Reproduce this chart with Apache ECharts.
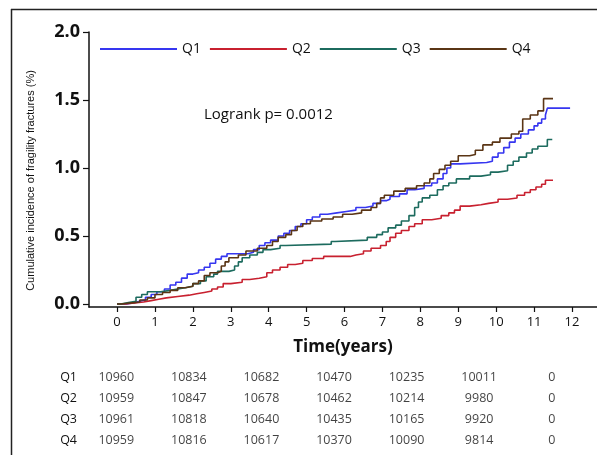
<!DOCTYPE html>
<html>
<head>
<meta charset="utf-8">
<script src="https://cdn.jsdelivr.net/npm/echarts@6/dist/echarts.min.js"></script>
<style>
  html, body { margin: 0; padding: 0; background: #fff; }
  #chart { width: 597px; height: 455px; }
</style>
</head>
<body>
<div id="chart"></div>
<script>
// 累积发生率 (t, %) —— 阶梯点
const groups = ['Q1', 'Q2', 'Q3', 'Q4']
const colors = ['#3636f0', '#c8202f', '#1c6b5e', '#5a3515']

const q1 = [[0,0],[0.25,0.01],[0.45,0.02],[0.6,0.03],[0.75,0.05],[0.9,0.07],[1.05,0.09],[1.25,0.11],[1.4,0.14],[1.55,0.16],[1.7,0.19],[1.85,0.22],[2.0,0.23],[2.15,0.25],[2.3,0.27],[2.45,0.3],[2.6,0.33],[2.75,0.35],[2.9,0.37],[3.45,0.38],[3.6,0.4],[3.75,0.43],[3.9,0.45],[4.05,0.47],[4.25,0.5],[4.4,0.52],[4.55,0.54],[4.7,0.57],[4.85,0.59],[5.0,0.62],[5.15,0.64],[5.35,0.66],[5.55,0.67],[5.8,0.68],[6.05,0.69],[6.3,0.71],[6.55,0.72],[6.75,0.74],[6.95,0.76],[7.1,0.77],[7.2,0.79],[7.45,0.81],[7.65,0.84],[7.85,0.85],[8.1,0.87],[8.3,0.89],[8.45,0.92],[8.6,0.96],[8.7,1.0],[8.8,1.03],[9.05,1.04],[9.75,1.05],[9.9,1.08],[10.05,1.11],[10.2,1.15],[10.35,1.19],[10.5,1.22],[10.65,1.25],[10.85,1.28],[11.0,1.31],[11.1,1.33],[11.2,1.36],[11.3,1.39],[11.35,1.44],[11.95,1.44]]
const q2 = [[0,0],[0.2,0.005],[0.4,0.015],[0.7,0.025],[0.9,0.035],[1.1,0.045],[1.3,0.055],[1.6,0.065],[1.9,0.075],[2.1,0.085],[2.3,0.095],[2.5,0.11],[2.65,0.125],[2.8,0.15],[3.0,0.16],[3.3,0.18],[3.5,0.19],[3.75,0.2],[3.95,0.23],[4.1,0.25],[4.3,0.27],[4.5,0.29],[4.7,0.3],[4.9,0.32],[5.15,0.335],[5.45,0.35],[6.15,0.36],[6.3,0.37],[6.5,0.39],[6.7,0.41],[6.95,0.43],[7.1,0.46],[7.2,0.49],[7.35,0.52],[7.5,0.54],[7.7,0.57],[7.85,0.59],[8.05,0.62],[8.3,0.63],[8.55,0.65],[8.75,0.67],[8.9,0.69],[9.05,0.72],[9.3,0.73],[9.6,0.74],[9.8,0.75],[10.05,0.77],[10.3,0.78],[10.55,0.8],[10.75,0.82],[10.9,0.84],[11.05,0.86],[11.2,0.88],[11.3,0.91],[11.5,0.91]]
const q3 = [[0,0],[0.1,0.01],[0.3,0.02],[0.5,0.05],[0.65,0.07],[0.8,0.09],[1.15,0.1],[1.4,0.11],[1.6,0.12],[1.8,0.13],[2.0,0.15],[2.2,0.17],[2.35,0.2],[2.55,0.22],[2.65,0.24],[2.95,0.25],[3.1,0.28],[3.2,0.31],[3.3,0.34],[3.5,0.36],[3.7,0.38],[3.85,0.4],[4.05,0.41],[4.3,0.43],[4.45,0.44],[5.65,0.46],[5.75,0.47],[6.6,0.49],[6.85,0.51],[7.0,0.53],[7.15,0.56],[7.35,0.58],[7.5,0.61],[7.7,0.65],[7.85,0.71],[7.95,0.75],[8.05,0.78],[8.25,0.8],[8.45,0.84],[8.6,0.87],[8.75,0.89],[8.95,0.92],[9.3,0.94],[9.6,0.95],[9.85,0.97],[10.05,0.98],[10.3,1.02],[10.45,1.05],[10.6,1.08],[10.8,1.11],[10.95,1.14],[11.1,1.16],[11.35,1.21],[11.48,1.21]]
const q4 = [[0,0],[0.1,0.01],[0.45,0.015],[0.6,0.03],[0.8,0.045],[1.0,0.07],[1.2,0.085],[1.4,0.1],[1.6,0.12],[1.8,0.13],[2.0,0.15],[2.15,0.17],[2.3,0.21],[2.45,0.23],[2.65,0.24],[2.75,0.28],[2.85,0.31],[2.95,0.34],[3.2,0.36],[3.4,0.39],[3.7,0.41],[3.95,0.43],[4.1,0.46],[4.25,0.49],[4.45,0.51],[4.6,0.54],[4.75,0.57],[4.9,0.59],[5.1,0.61],[5.4,0.625],[5.7,0.64],[5.95,0.66],[6.2,0.67],[6.45,0.69],[6.7,0.71],[6.85,0.74],[6.95,0.78],[7.05,0.8],[7.3,0.83],[7.6,0.85],[7.9,0.87],[8.1,0.89],[8.25,0.92],[8.35,0.96],[8.5,0.99],[8.65,1.02],[8.8,1.05],[9.0,1.09],[9.3,1.1],[9.45,1.13],[9.65,1.17],[9.9,1.19],[10.1,1.22],[10.4,1.25],[10.6,1.27],[10.7,1.36],[10.9,1.39],[11.1,1.42],[11.25,1.51],[11.5,1.51]]
const curves = [q1, q2, q3, q4]

const xTicks = [0,1,2,3,4,5,6,7,8,9,10,11,12]
const yTicks = [0, 0.5, 1.0, 1.5, 2.0]

// 风险人数表
const riskTimes = ['0', '2', '4', '6', '8', '10', '12']
const riskQ1 = [10960, 10834, 10682, 10470, 10235, 10011, 0]
const riskQ2 = [10959, 10847, 10678, 10462, 10214, 9980, 0]
const riskQ3 = [10961, 10818, 10640, 10435, 10165, 9920, 0]
const riskQ4 = [10959, 10816, 10617, 10370, 10090, 9814, 0]
const riskRows = [riskQ1, riskQ2, riskQ3, riskQ4]

const font = 'Open Sans, Noto Sans, sans-serif'

let myChart = echarts.init(document.getElementById('chart'))

let tableData = []
riskRows.forEach((row, r) => {
  row.forEach((v, c) => {
    tableData.push([riskTimes[c], groups[r], v])
  })
})

let option = {
  backgroundColor: '#fff',
  animation: false,
  textStyle: { fontFamily: font },
  title: {
    text: 'Logrank p= 0.0012',
    left: 199,
    top: 102,
    textStyle: { fontSize: 15, fontWeight: 'normal', color: '#111', fontFamily: font }
  },
  legend: {
    data: groups,
    left: 100,
    top: 42,
    padding: 0,
    icon: 'rect',
    itemWidth: 77,
    itemHeight: 2,
    itemGap: 9,
    textStyle: { fontSize: 14, color: '#111', fontFamily: font }
  },
  graphic: [
    { type: 'line', shape: { x1: 11, y1: 9.5, x2: 597, y2: 9.5 }, style: { stroke: '#222', lineWidth: 1.5 } },
    { type: 'line', shape: { x1: 11.5, y1: 9, x2: 11.5, y2: 455 }, style: { stroke: '#222', lineWidth: 1.5 } }
  ],
  grid: [
    { left: 89, right: 0, top: 32, bottom: 148 },
    { left: 80, width: 508, top: 366.5, height: 84 }
  ],
  xAxis: [
    {
      type: 'value',
      gridIndex: 0,
      min: -0.74,
      max: 12.66,
      splitLine: { show: false },
      axisLine: { onZero: false, lineStyle: { color: '#111', width: 1.5 } },
      axisTick: { length: 5, customValues: xTicks, lineStyle: { color: '#111', width: 1.2 } },
      axisLabel: { customValues: xTicks, fontSize: 13, color: '#111', margin: 9, fontFamily: font },
      name: 'Time(years)',
      nameLocation: 'middle',
      nameGap: 32,
      nameTextStyle: { fontSize: 17, fontWeight: 'bold', color: '#111', fontFamily: font }
    },
    {
      type: 'category',
      gridIndex: 1,
      data: riskTimes,
      show: false
    }
  ],
  yAxis: [
    {
      type: 'value',
      gridIndex: 0,
      min: -0.022,
      max: 2.0,
      splitLine: { show: false },
      axisLine: { show: true, onZero: false, lineStyle: { color: '#111', width: 1.5 } },
      axisTick: { show: true, length: 6, customValues: yTicks, lineStyle: { color: '#111', width: 1.2 } },
      axisLabel: {
        customValues: yTicks,
        fontSize: 18,
        fontWeight: 'bold',
        color: '#111',
        margin: 9,
        fontFamily: font,
        formatter: v => v.toFixed(1)
      },
      name: 'Cumulative incidence of fragility fractures (%)',
      nameLocation: 'middle',
      nameGap: 53,
      nameTextStyle: { fontSize: 11, color: '#111', fontFamily: 'Liberation Sans, Arial, sans-serif', padding: [0, 22, 0, 0] }
    },
    {
      type: 'category',
      gridIndex: 1,
      data: groups,
      inverse: true,
      axisLine: { show: false },
      axisTick: { show: false },
      axisLabel: { fontSize: 12.5, color: '#111', margin: 3, fontFamily: font }
    }
  ],
  series: curves.map((d, i) => ({
    name: groups[i],
    type: 'line',
    step: 'end',
    xAxisIndex: 0,
    yAxisIndex: 0,
    data: d,
    showSymbol: false,
    symbol: 'none',
    color: colors[i],
    lineStyle: { width: 1.6, color: colors[i] }
  })).concat([
    {
      name: 'risk',
      type: 'scatter',
      xAxisIndex: 1,
      yAxisIndex: 1,
      symbolSize: 0,
      silent: true,
      data: tableData,
      label: {
        show: true,
        position: 'inside',
        formatter: p => p.value[2],
        fontSize: 12.5,
        color: '#111',
        fontFamily: font
      }
    }
  ])
}
myChart.setOption(option, true)
</script>
</body>
</html>
